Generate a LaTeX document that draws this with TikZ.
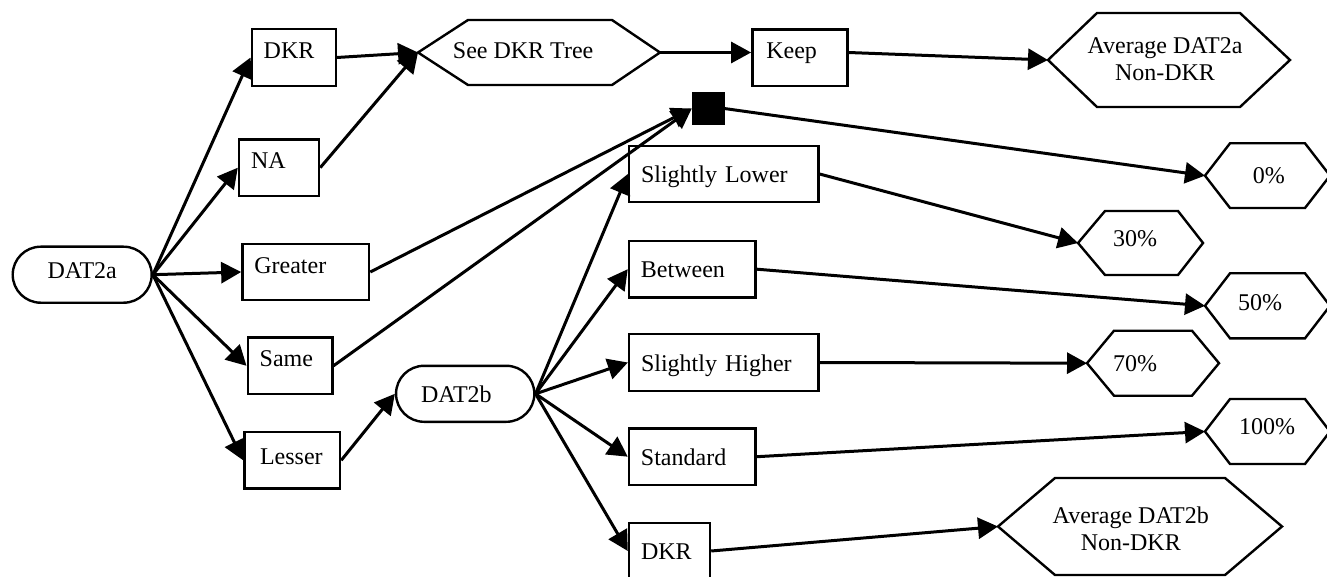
\documentclass[tikz,border=0pt]{standalone}
\usepackage{fontspec}
\setmainfont{Liberation Serif}
\usetikzlibrary{arrows.meta}
\newcommand\myhex[7]{%
  \draw[hexline] (#2,{(#6+#7)/2}) -- (#3,#6) -- (#4,#6) -- (#5,{(#6+#7)/2}) -- (#4,#7) -- (#3,#7) -- cycle;
  \coordinate (#1) at (#2,{(#6+#7)/2});}
\begin{document}
\begin{tikzpicture}[x=1pt,y=-1pt,
  every node/.style={font=\fontsize{24}{27.6}\selectfont},
  box/.style={draw, rectangle, line width=2.4pt, inner xsep=12pt, inner ysep=0pt, align=left, minimum height=56.5pt, text height=17pt},
  pill/.style={draw, rectangle, rounded corners=28pt, line width=2.4pt, inner ysep=0pt, minimum height=56pt, text height=17pt},
  hexline/.style={line width=2.4pt, line join=miter},
  conn/.style={line width=3pt, -{Triangle[length=20pt,width=21pt]}},
  lbl/.style={inner sep=0pt, anchor=base west}]
\useasboundingbox (0,0) rectangle (1327,577);

% left column
\node[pill, minimum width=139pt, text depth=10pt] (dat2a) at (82.2,274.7) {DAT2a};
\node[box, text width=60pt, text depth=15pt] (dkra) at (293.7,57.5) {DKR};
\node[box, text width=56pt, text depth=15pt] (na) at (279,167.7) {NA};
\node[box, text width=102.7pt, text depth=14pt] (greater) at (305.7,272) {Greater};
\node[box, text width=60.6pt, text depth=15pt] (same) at (290,365.8) {Same};
\node[box, inner xsep=15.7pt, text width=64.3pt, text depth=8pt] (lesser) at (292.2,460.3) {Lesser};

% middle
\node[pill, minimum width=138.3pt, inner xsep=25pt, text width=88.3pt, align=left, text depth=0pt] (dat2b) at (465.2,393.8) {DAT2b};
\node[box, inner xsep=14pt, text width=67pt, text depth=15pt] (keep) at (799.8,57.8) {Keep};
\node[draw, fill=black, line width=0.5pt, minimum size=32pt, inner sep=0pt] (sq) at (708,108.5) {};
\node[box, text width=165.3pt, text depth=0pt] (slow) at (723.7,174) {Slightly Lower};
\node[box, text width=102.7pt, text depth=0pt] (between) at (692.3,269.2) {Between};
\node[box, text width=165.3pt, text depth=0pt] (shigh) at (723.7,362.5) {Slightly Higher};
\node[box, text width=102.7pt, text depth=0pt] (standard) at (692.3,456.7) {Standard};
\node[box, text width=57pt, text depth=0pt] (dkrb) at (669.5,551) {DKR};

% hexagons
\myhex{seew}{418}{468}{612}{660}{20}{85}
\coordinate (seee) at (660,52.5);
\node[lbl] (see) at (452.7,58.3) {See DKR Tree};
\myhex{avgaw}{1048}{1097}{1240}{1290}{13}{107}
\node[align=center, anchor=base, inner sep=0pt] (avga) at (1165,80.7) {Average DAT2a\\Non-DKR};
\myhex{p0w}{1205}{1230}{1305}{1330}{143.3}{208}
\node[lbl] (p0) at (1252.7,183.3) {0\%};
\myhex{p30w}{1078}{1105}{1178}{1203}{211}{275}
\node[lbl] (p30) at (1113,246.7) {30\%};
\myhex{p50w}{1205}{1230}{1305}{1330}{273.3}{338.3}
\node[lbl] (p50) at (1238,310) {50\%};
\myhex{p70w}{1087}{1114}{1192}{1219}{330.7}{395.7}
\node[lbl] (p70) at (1113,371.7) {70\%};
\myhex{p100w}{1205}{1230}{1305}{1330}{399}{464}
\node[lbl] (p100) at (1239,434) {100\%};
\myhex{avgbw}{998}{1055}{1225}{1282}{478}{575}
\node[align=center, anchor=base, inner sep=0pt] (avgb) at (1130.8,550.7) {Average DAT2b\\Non-DKR};

% connectors
\draw[conn] (dat2a.east) -- (dkra.west);
\draw[conn] (dat2a.east) -- (na.west);
\draw[conn] (dat2a.east) -- (greater.west);
\draw[conn] (dat2a.east) -- (same.west);
\draw[conn] (dat2a.east) -- (lesser.west);
\draw[conn] (dkra.east) -- (seew);
\draw[conn] (na.east) -- (seew);
\draw[conn] (seee) -- (keep.west |- seee);
\draw[conn] (keep.east |- seee) -- (avgaw);
\draw[conn] (greater.east) -- (sq.west);
\draw[conn] (same.east) -- (sq.west);
\draw[conn] (sq.east) -- (p0w);
\draw[conn] (lesser.east) -- (dat2b.west);
\draw[conn] (dat2b.east) -- (slow.west);
\draw[conn] (dat2b.east) -- (between.west);
\draw[conn] (dat2b.east) -- (shigh.west);
\draw[conn] (dat2b.east) -- (standard.west);
\draw[conn] (dat2b.east) -- (dkrb.west);
\draw[conn] (slow.east) -- (p30w);
\draw[conn] (between.east) -- (p50w);
\draw[conn] (shigh.east) -- (p70w);
\draw[conn] (standard.east) -- (p100w);
\draw[conn] (dkrb.east) -- (avgbw);
\end{tikzpicture}
\end{document}
